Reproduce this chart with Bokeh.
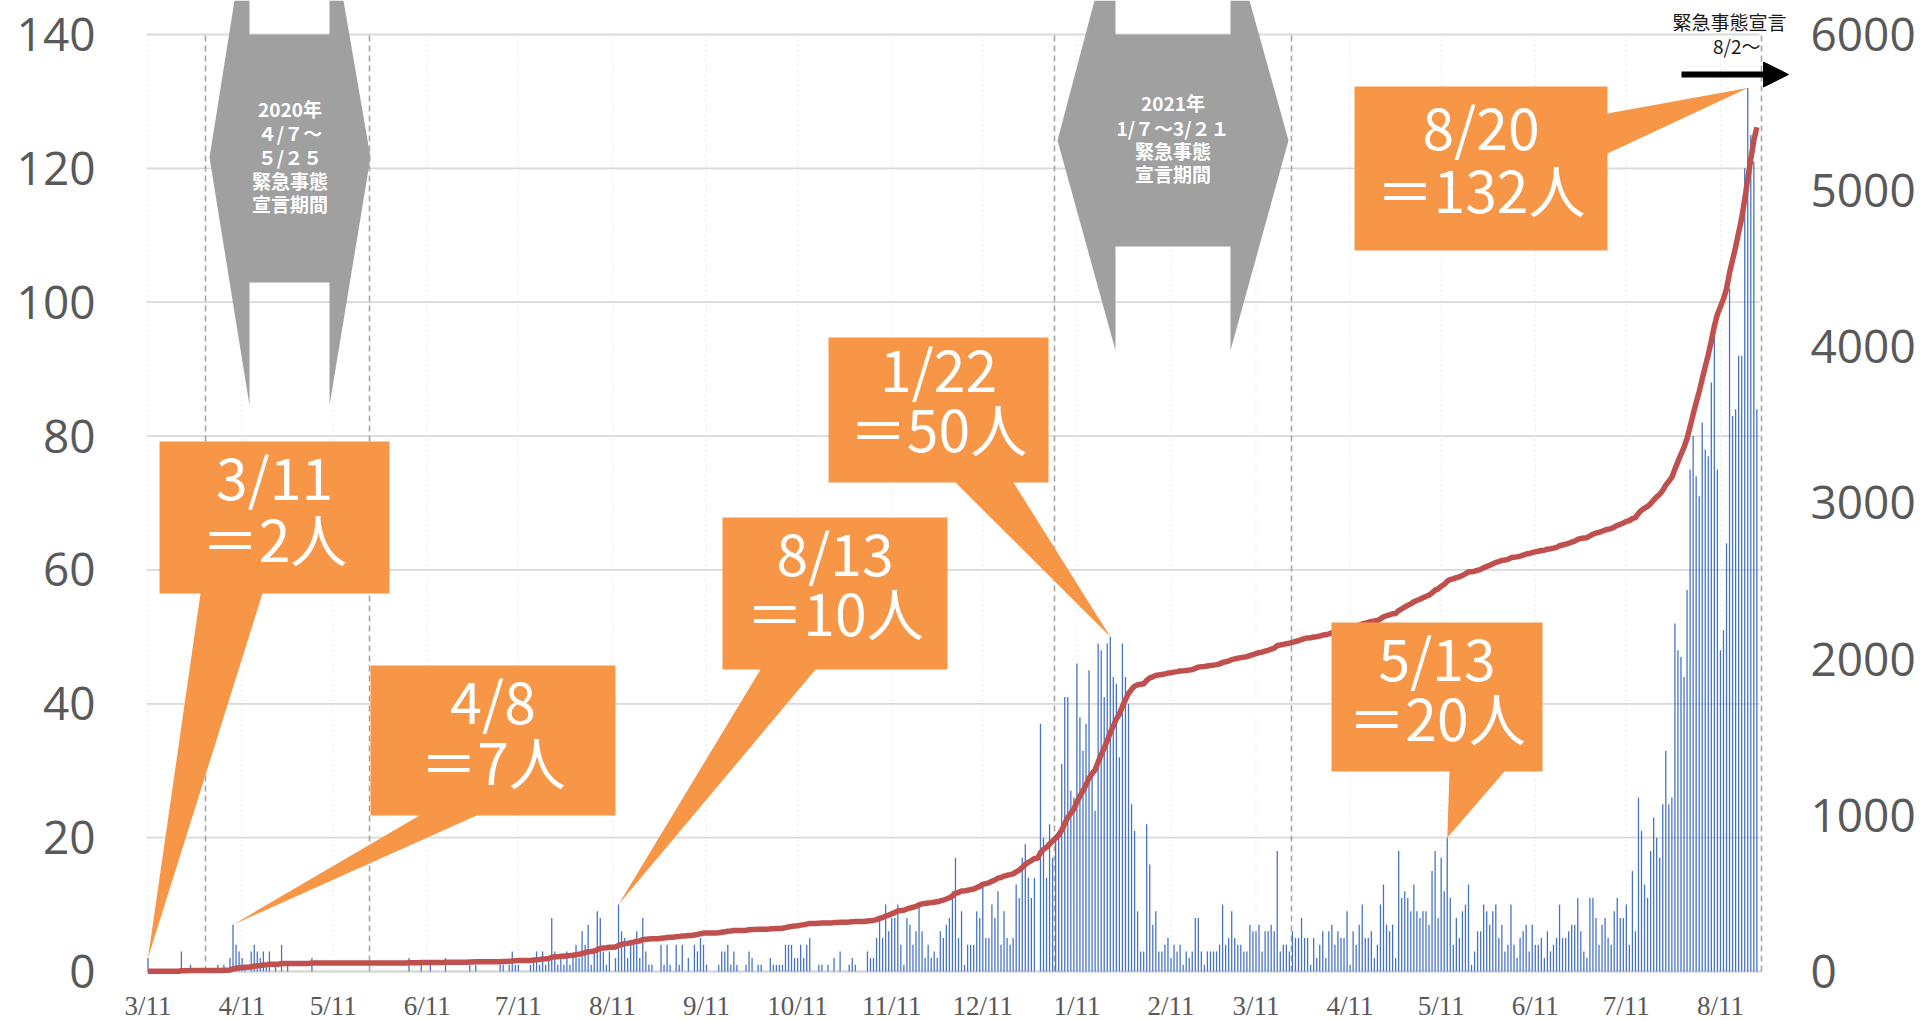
import numpy as np
import pandas as pd
from bokeh.plotting import figure
from bokeh.models import Range1d, LinearAxis, FixedTicker, Label, Arrow, NormalHead
from bokeh.core.properties import value
from bokeh.embed import file_html
from bokeh.resources import INLINE

# ---------------- data ----------------
start_date = "2020-03-11"
# daily new cases, one value per day starting 2020-03-11
daily_cases = [
    2, 0, 0, 0, 0, 0, 0, 0, 0, 0,
    0, 3, 0, 0, 1, 0, 0, 0, 0, 0,
    0, 0, 0, 1, 0, 1, 0, 2, 7, 4,
    3, 2, 1, 0, 3, 4, 3, 2, 3, 1,
    3, 0, 1, 0, 4, 0, 1, 0, 0, 0,
    0, 0, 0, 0, 2, 0, 0, 0, 0, 0,
    0, 0, 0, 0, 0, 0, 0, 0, 0, 0,
    0, 0, 0, 0, 0, 0, 0, 0, 0, 0,
    0, 0, 0, 0, 0, 0, 2, 0, 0, 0,
    1, 0, 0, 1, 0, 0, 0, 0, 2, 0,
    0, 0, 0, 0, 0, 0, 1, 0, 1, 0,
    0, 0, 0, 0, 0, 0, 1, 1, 0, 1,
    3, 1, 1, 0, 0, 0, 1, 2, 3, 1,
    3, 1, 2, 8, 3, 1, 2, 1, 3, 1,
    2, 4, 2, 6, 4, 7, 1, 3, 9, 8,
    3, 1, 3, 0, 2, 10, 6, 5, 2, 4,
    4, 6, 2, 8, 3, 1, 1, 0, 0, 4,
    1, 4, 1, 0, 4, 1, 4, 0, 2, 0,
    4, 3, 5, 4, 1, 0, 0, 0, 1, 3,
    3, 4, 1, 3, 1, 0, 0, 1, 3, 2,
    0, 1, 1, 0, 0, 2, 1, 1, 1, 1,
    4, 4, 4, 2, 2, 4, 2, 4, 5, 0,
    0, 1, 1, 0, 1, 0, 2, 0, 3, 0,
    0, 1, 2, 1, 0, 0, 0, 3, 2, 2,
    5, 8, 5, 10, 6, 8, 8, 10, 4, 1,
    8, 7, 4, 6, 10, 6, 2, 4, 2, 3,
    2, 6, 5, 7, 8, 12, 17, 5, 9, 1,
    4, 4, 4, 9, 8, 13, 5, 5, 10, 8,
    12, 4, 9, 5, 4, 5, 13, 11, 17, 19,
    14, 11, 14, 0, 37, 20, 14, 22, 17, 20,
    20, 31, 41, 41, 27, 26, 46, 38, 33, 37,
    45, 29, 24, 49, 48, 41, 49, 50, 44, 43,
    32, 49, 44, 40, 25, 21, 9, 3, 3, 22,
    16, 7, 9, 3, 3, 4, 5, 2, 4, 3,
    4, 1, 3, 2, 3, 8, 8, 3, 1, 3,
    3, 3, 3, 4, 10, 4, 5, 9, 5, 4,
    4, 3, 3, 7, 6, 6, 7, 3, 6, 6,
    7, 6, 18, 3, 4, 4, 3, 6, 5, 5,
    8, 5, 5, 1, 5, 2, 4, 6, 2, 6,
    7, 4, 6, 5, 5, 9, 1, 6, 4, 7,
    10, 5, 5, 6, 2, 4, 10, 13, 7, 6,
    7, 2, 18, 11, 12, 11, 9, 13, 9, 8,
    9, 9, 7, 15, 18, 8, 17, 12, 20, 11,
    4, 8, 5, 9, 10, 13, 1, 3, 6, 6,
    10, 9, 7, 9, 10, 5, 7, 3, 4, 10,
    4, 2, 5, 6, 7, 3, 7, 4, 4, 5,
    2, 6, 3, 4, 5, 10, 5, 5, 6, 7,
    7, 11, 6, 3, 2, 11, 11, 8, 4, 7,
    8, 5, 4, 9, 11, 8, 8, 10, 4, 15,
    6, 26, 21, 13, 11, 18, 23, 20, 17, 25,
    33, 25, 26, 52, 48, 47, 44, 57, 75, 80,
    74, 71, 82, 78, 77, 88, 95, 75, 48, 51,
    64, 102, 83, 84, 92, 92, 120, 132, 125, 121,
    84,
]

tick_dates = ["2020-03-11", "2020-04-11", "2020-05-11", "2020-06-11", "2020-07-11",
              "2020-08-11", "2020-09-11", "2020-10-11", "2020-11-11", "2020-12-11",
              "2021-01-11", "2021-02-11", "2021-03-11", "2021-04-11", "2021-05-11",
              "2021-06-11", "2021-07-11", "2021-08-11"]
tick_labels = ["3/11", "4/11", "5/11", "6/11", "7/11", "8/11", "9/11", "10/11", "11/11",
               "12/11", "1/11", "2/11", "3/11", "4/11", "5/11", "6/11", "7/11", "8/11"]
left_ticks = [0, 20, 40, 60, 80, 100, 120, 140]
right_ticks = [0, 1000, 2000, 3000, 4000, 5000, 6000]

callout_dates = ["2020-03-11", "2020-04-08", "2020-08-13", "2021-01-22", "2021-05-13", "2021-08-20"]
callout_titles = ["3/11", "4/8", "8/13", "1/22", "5/13", "8/20"]
callout_values = [2, 7, 10, 50, 20, 132]

# ---------------- derived ----------------
t0 = pd.Timestamp(start_date)
days = list(range(len(daily_cases)))
cumulative = np.cumsum(daily_cases)
tick_days = [(pd.Timestamp(d) - t0).days for d in tick_dates]
callout_days = [(pd.Timestamp(d) - t0).days for d in callout_dates]

# ---------------- layout helpers (page pixel -> data) ----------------
FIG_W, FIG_H = 1918, 1020
BORDER_L, BORDER_R = 110, 122
FRAME_LEFT, FRAME_TOP = float(BORDER_L), 0.0
FRAME_W, FRAME_H = float(FIG_W - BORDER_L - BORDER_R), float(FIG_H)
PX_PER_DAY = 3.0356
PX_PER_CASE = 6.693
DAY0_X = 147.5                                   # page x of the first day
BASE_Y = 971.0                                   # page y of value 0
X_START = -(DAY0_X - FRAME_LEFT) / PX_PER_DAY
X_END = X_START + FRAME_W / PX_PER_DAY
Y_END = (BASE_Y - FRAME_TOP) / PX_PER_CASE
Y_START = -(FRAME_TOP + FRAME_H - BASE_Y) / PX_PER_CASE
RATIO = 6000 / 140


def dx(px):
    return (px - DAY0_X) / PX_PER_DAY


def dy(py):
    return (BASE_Y - py) / PX_PER_CASE


GRAY_TXT = "#595959"
ORANGE = "#F79646"

p = figure(width=FIG_W, height=FIG_H, x_range=Range1d(X_START, X_END),
           y_range=Range1d(Y_START, Y_END),
           output_backend="svg", toolbar_location=None,
           min_border_left=BORDER_L, min_border_right=BORDER_R,
           min_border_top=0, min_border_bottom=0)
p.outline_line_color = None
p.xaxis.visible = False
p.xgrid.visible = False
p.ygrid.visible = False

# left axis
p.yaxis.ticker = FixedTicker(ticks=left_ticks)
p.yaxis.axis_line_color = None
p.yaxis.major_tick_line_color = None
p.yaxis.minor_tick_line_color = None
p.yaxis.major_tick_out = 0
p.yaxis.major_label_standoff = 15
p.yaxis.major_label_text_font = "Open Sans"
p.yaxis.major_label_text_font_size = "46px"
p.yaxis.major_label_text_color = GRAY_TXT

# right axis
p.extra_y_ranges = {"cum": Range1d(Y_START * RATIO, Y_END * RATIO)}
ra = LinearAxis(y_range_name="cum", ticker=FixedTicker(ticks=right_ticks))
ra.axis_line_color = None
ra.major_tick_line_color = None
ra.minor_tick_line_color = None
ra.major_tick_out = 0
ra.major_label_standoff = 14
ra.major_label_text_font = "Open Sans"
ra.major_label_text_font_size = "46px"
ra.major_label_text_color = GRAY_TXT
p.add_layout(ra, "right")

# grid lines (kept inside the plotted period)
grid_start, grid_end = dx(146), dx(1759)
p.segment(x0=grid_start, x1=grid_end, y0=left_ticks[1:], y1=left_ticks[1:],
          line_color="#D9D9D9", line_width=1.8)
p.segment(x0=tick_days, x1=tick_days, y0=0, y1=140,
          line_color="#E8E8E8", line_width=1, line_dash="2 3")
# category axis base line and tick labels
p.segment(x0=grid_start, x1=dx(1761), y0=0, y1=0, line_color="#D9D9D9", line_width=2.5)
p.text(x=tick_days, y=dy(1005), text=tick_labels, text_align="center", text_baseline="middle",
       text_font=value("Liberation Sans Narrow"), text_font_size="27px", text_color=GRAY_TXT)

# emergency-period shapes (grey up/down arrows), page pixel outlines
shape_px = [
    [(234, 0), (209, 157), (249, 405), (249, 282), (329, 282), (329, 405), (370, 157),
     (343, 0), (329, 0), (329, 34), (249, 34), (249, 0)],
    [(1094, 0), (1057, 140), (1115, 350), (1115, 246), (1230, 246), (1230, 350), (1288, 140),
     (1249, 0), (1230, 0), (1230, 34), (1115, 34), (1115, 0)],
]
for pts in shape_px:
    p.patch([dx(a) for a, b in pts], [dy(b) for a, b in pts], fill_color="#A0A0A0",
            line_color=None)

shape_texts = [
    (289.5, [108, 132, 156, 180, 203], ["2020年", "４/７～", "５/２５", "緊急事態", "宣言期間"]),
    (1172.5, [102, 127, 150, 173], ["2021年", "1/７～3/２１", "緊急事態", "宣言期間"]),
]

# dashed markers
marker_px = [205, 369, 1054, 1291, 1761]
p.segment(x0=[dx(m) for m in marker_px], y0=0, x1=[dx(m) for m in marker_px], y1=140,
          line_color="#A6A6A6", line_width=1.6, line_dash="6 4")

# bars + cumulative line
p.vbar(x=days, top=daily_cases, width=0.42, fill_color="#4472C4", line_color=None)
p.line(days, cumulative, y_range_name="cum", line_color="#C0504D", line_width=5.5)

# callouts: box (page px), pointer base, text line y positions (page px)
callout_geom = [
    dict(box=(159, 441, 389, 593), base=("b", 200, 262), ly=(474, 536)),
    dict(box=(370, 665, 615, 815), base=("b", 419, 476), ly=(698, 759)),
    dict(box=(722, 517, 947, 669), base=("b", 760, 815), ly=(550, 610)),
    dict(box=(828, 337, 1048, 482), base=("b", 955, 1013), ly=(366, 426)),
    dict(box=(1331, 622, 1542, 771), base=("b", 1449, 1504), ly=(655, 715)),
    dict(box=(1354, 86, 1607, 250), base=("r", 113, 153), ly=(124, 187)),
]
for g, tday, tval, title in zip(callout_geom, callout_days, callout_values, callout_titles):
    x0, y0, x1, y1 = g["box"]
    side, b1, b2 = g["base"]
    if side == "b":
        pts = [(dx(x0), dy(y0)), (dx(x1), dy(y0)), (dx(x1), dy(y1)), (dx(b2), dy(y1)),
               (tday, tval), (dx(b1), dy(y1)), (dx(x0), dy(y1))]
    else:
        pts = [(dx(x0), dy(y0)), (dx(x1), dy(y0)), (dx(x1), dy(b1)), (tday, tval),
               (dx(x1), dy(b2)), (dx(x1), dy(y1)), (dx(x0), dy(y1))]
    p.patch([a for a, b in pts], [b for a, b in pts], fill_color=ORANGE, line_color=None)
    cx = dx((x0 + x1) / 2)
    for txt, ypx in zip([title, "＝%d人" % tval], g["ly"]):
        p.add_layout(Label(x=cx, y=dy(ypx), text=txt, text_align="center",
                           text_baseline="middle", text_color="white",
                           text_font="Noto Sans CJK JP", text_font_size="57px"))

for cxp, ys, lines in shape_texts:
    for ypx, txt in zip(ys, lines):
        p.add_layout(Label(x=dx(cxp), y=dy(ypx), text=txt, text_align="center",
                           text_baseline="middle", text_color="white", text_font_style="bold",
                           text_font="Noto Sans CJK JP", text_font_size="19px"))

# 8/2 declaration note + arrow
p.add_layout(Label(x=dx(1786), y=dy(21), text="緊急事態宣言", text_align="right",
                   text_baseline="middle", text_color="#1a1a1a",
                   text_font="Noto Sans CJK JP", text_font_size="19px"))
p.add_layout(Label(x=dx(1760), y=dy(45), text="8/2～", text_align="right",
                   text_baseline="middle", text_color="#1a1a1a",
                   text_font="Noto Sans CJK JP", text_font_size="19px"))
p.add_layout(Arrow(x_start=dx(1681), y_start=dy(74), x_end=dx(1788), y_end=dy(74),
                   line_width=6, line_color="black",
                   end=NormalHead(size=25, fill_color="black", line_color="black")))

open("out.html", "w", encoding="utf-8").write(file_html(p, INLINE))
